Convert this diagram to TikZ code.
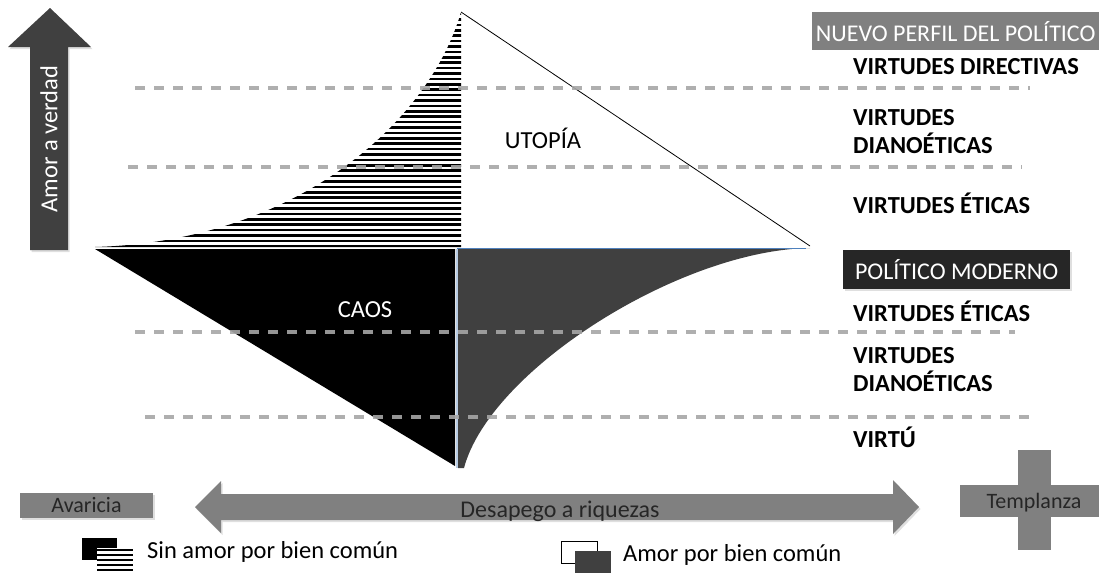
\documentclass[tikz,border=0pt]{standalone}
\usepackage{fontspec}
\setmainfont{Carlito}
\usetikzlibrary{positioning,shadows}
\definecolor{darkfill}{HTML}{404040}
\definecolor{boxdark}{HTML}{262626}
\definecolor{midgray}{HTML}{808080}
\definecolor{dashgray}{HTML}{A6A6A6}
\definecolor{edgeblue}{HTML}{4F81BD}
\definecolor{paleblue}{HTML}{B8CCE4}

\begin{document}
\begin{tikzpicture}[x=1pt, y=-1pt,
    virtud/.style={anchor=west, font=\fontsize{24.5}{28}\selectfont\bfseries, align=left, inner sep=0pt},
    perfil/.style={anchor=north west, text=white, font=\fontsize{24}{26}\selectfont, inner sep=1pt},
    zona/.style={font=\fontsize{24.5}{26}\selectfont},
    band/.style={dashgray, line width=3.2pt, dash pattern=on 10pt off 9pt, opacity=0.9},
    flecha/.style={fill=midgray, drop shadow={opacity=0.25, shadow xshift=1.5pt, shadow yshift=-2pt}},
    leyenda/.style={anchor=west, font=\fontsize{24.5}{26}\selectfont, inner sep=0pt}
]
\useasboundingbox (0,0) rectangle (1099,574);

% eje vertical
\fill[darkfill, drop shadow={opacity=0.25, shadow xshift=1.5pt, shadow yshift=-2pt}]
    (30,250) -- (30,47) -- (8,47) -- (50,8) -- (91,47) -- (68,47) -- (68,250) -- cycle;
\node[rotate=90, text=white, font=\fontsize{24.5}{26}\selectfont] (verdad) at (49,139) {Amor a verdad};

% zona rayada
\begin{scope}
  \clip (95,247) .. controls (300,241) and (430,120) .. (461,12) -- (461,247) -- cycle;
  \foreach \yy in {14,19.4,...,248}
    \draw[line width=2.6pt] (90,\yy) -- (465,\yy);
\end{scope}
\draw[line width=0.8pt] (461,12) -- (810,246);

% caos y zona gris
\fill[black] (95,249) -- (455,249) -- (455,466) -- cycle;
\fill[darkfill] (458,248) -- (810,248) .. controls (680,250) and (490,370) .. (464,468) -- (458,468) -- cycle;
\draw[edgeblue, line width=1pt] (457,248) -- (806,248);
\draw[paleblue, line width=1.2pt] (457,249) -- (457,468);

\node[zona] (utopia) at (543,138) {UTOPÍA};
\node[zona, text=white] (caos) at (365,310) {CAOS};

% niveles
\draw[band] (135,88) -- (1030,88);
\draw[band] (128,167) -- (1022,167);
\draw[band] (135,332) -- (1015,332);
\draw[band] (145,417) -- (1037,417);

% perfiles
\node[perfil, fill=midgray, minimum width=287pt, minimum height=38pt] (nuevo) at (812,12) {NUEVO PERFIL DEL POLÍTICO};
\node[virtud] (directivas) at (853,67) {VIRTUDES DIRECTIVAS};
\node[virtud] (dianoeticas) at (853,131.5) {VIRTUDES\\DIANOÉTICAS};
\node[virtud] (eticas) at (853,203) {VIRTUDES ÉTICAS};

\node[perfil, fill=boxdark, minimum width=227pt, minimum height=39pt,
      drop shadow={opacity=0.25, shadow xshift=1.5pt, shadow yshift=-1.5pt}] (moderno) at (843,250) {POLÍTICO MODERNO};
\node[virtud] (eticasb) at (853,311) {VIRTUDES ÉTICAS};
\node[virtud] (dianoeticasb) at (853,369.5) {VIRTUDES\\DIANOÉTICAS};
\node[virtud] (virtu) at (853,437) {VIRTÚ};

% eje horizontal
\fill[flecha] (195,507) -- (221,481) -- (221,494) -- (893,494) -- (893,480) -- (919,507)
    -- (893,534) -- (893,520) -- (221,520) -- (221,533) -- cycle;
\node[text=boxdark, font=\fontsize{24}{26}\selectfont] (desapego) at (560,511) {Desapego a riquezas};

\node[fill=midgray, text=boxdark, minimum width=133pt, minimum height=25pt, inner sep=0pt,
      font=\fontsize{22}{24}\selectfont, drop shadow={opacity=0.25, shadow xshift=1.5pt, shadow yshift=-1.5pt}] (avaricia) at (86.5,505.5) {Avaricia};

\fill[midgray] (1018,450) rectangle (1051,550);
\fill[midgray] (960,485) rectangle (1099,517);
\node[text=boxdark, font=\fontsize{22}{24}\selectfont] (templanza) at (1034,503) {Templanza};

% leyenda
\fill[black] (82,538) rectangle (117,560);
\fill[white] (97,548) rectangle (133,571);
\foreach \yy in {550,555,...,570}
  \draw[line width=2.2pt] (97,\yy) -- (133,\yy);
\node[leyenda] (sinamor) at (147,552) {Sin amor por bien común};

\draw[line width=0.8pt, fill=white] (561,541) rectangle (597,563);
\fill[darkfill] (575,551) rectangle (611,573);
\node[leyenda] (amor) at (623,555) {Amor por bien común};

\end{tikzpicture}
\end{document}
